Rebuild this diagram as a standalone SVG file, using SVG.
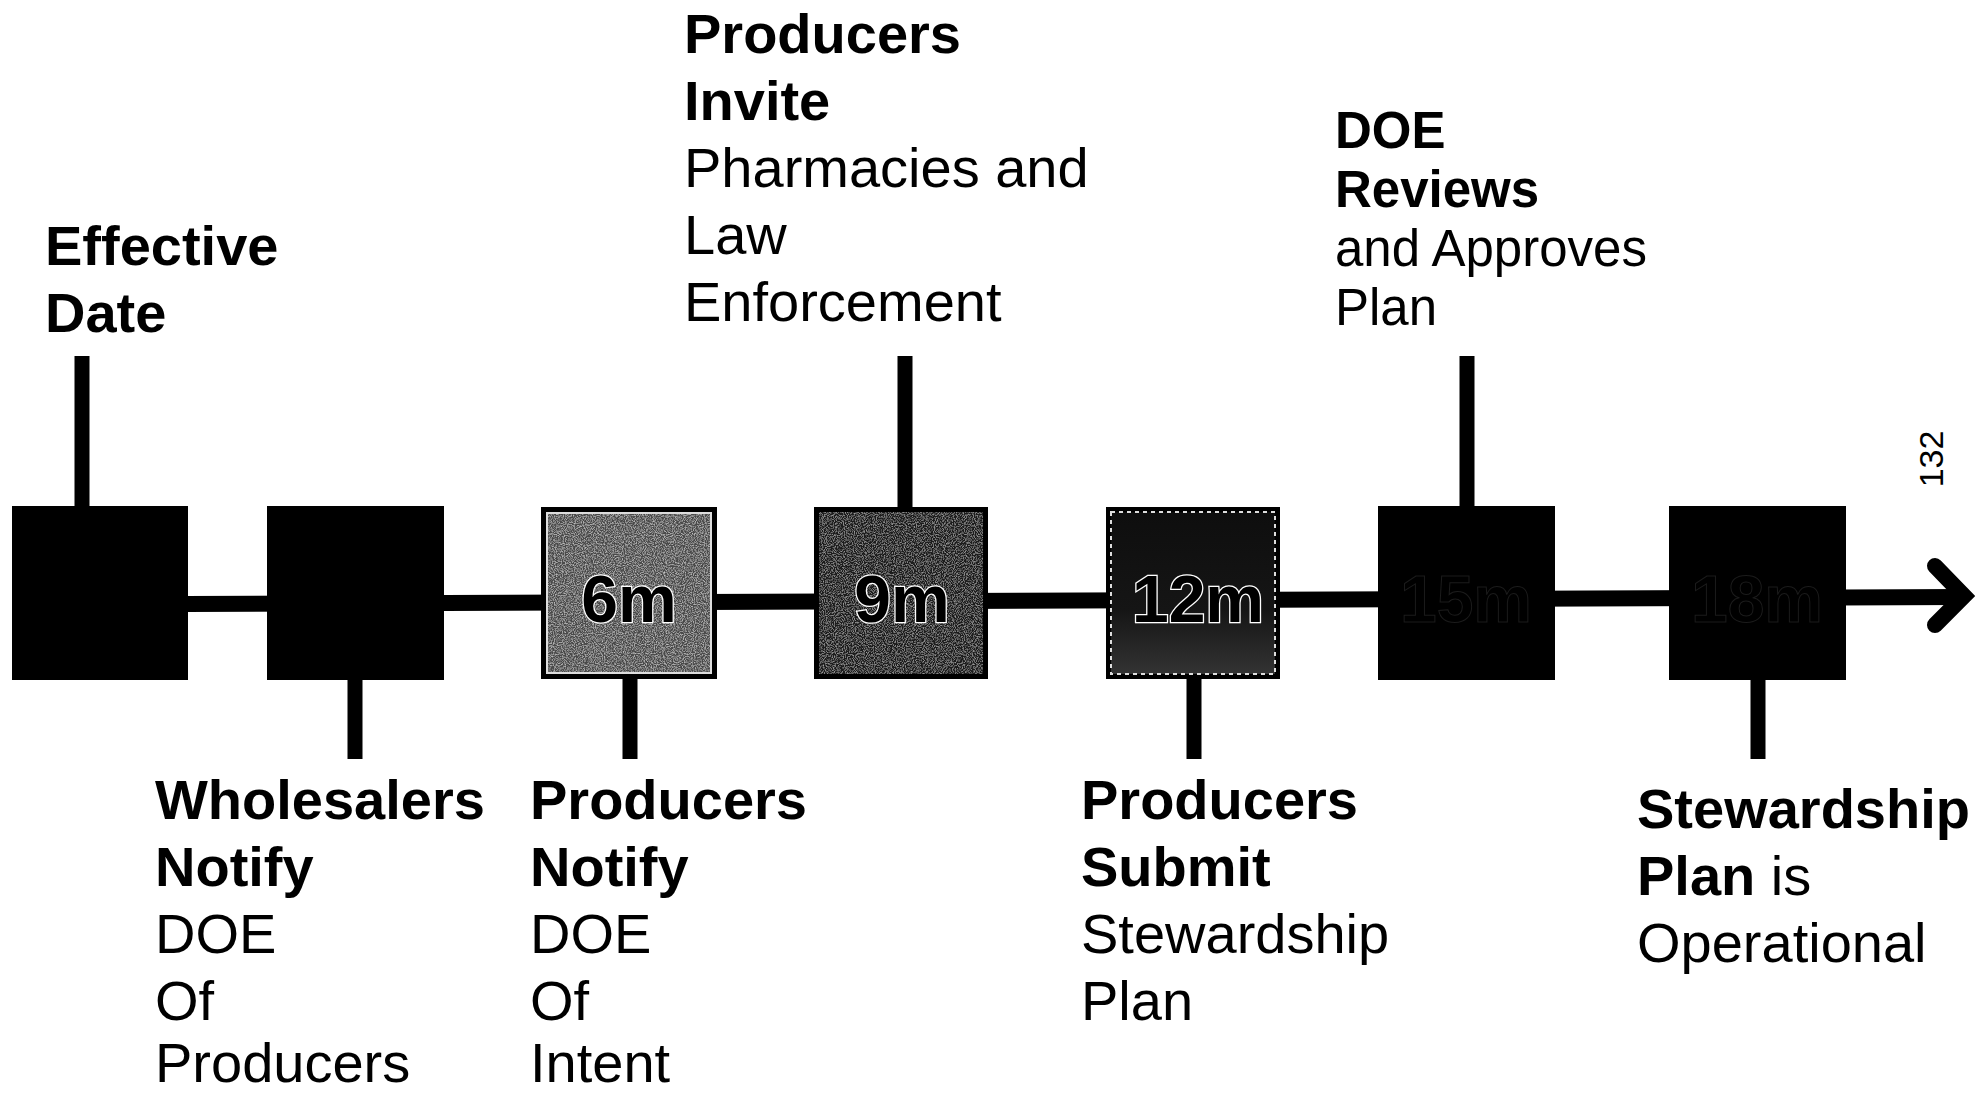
<svg xmlns="http://www.w3.org/2000/svg" width="1977" height="1094" viewBox="0 0 1977 1094">
<style>
  text { font-family: "Liberation Sans", Arial, sans-serif; fill: #000; }
  .b { font-weight: bold; }
  .l56 { font-size: 56px; }
  .l51 { font-size: 51px; }
  .box { stroke: #000; stroke-width: 2; }
  .inner { fill: none; stroke: #ddd; stroke-width: 2; }
  .tick { stroke: #000; stroke-width: 15; }
  .lbl { font-size: 66px; font-weight: bold; text-anchor: middle; stroke: #fff; stroke-width: 2.5; paint-order: stroke; }
  .lbl-dark { font-size: 66px; font-weight: bold; text-anchor: middle; fill: #000; stroke: #1c1c1c; stroke-width: 1; }
</style>
<defs>
  <filter id="grainA" x="0" y="0" width="100%" height="100%">
    <feTurbulence type="fractalNoise" baseFrequency="0.9" numOctaves="2" seed="5" result="t"/>
    <feColorMatrix in="t" type="matrix" values="0 0 0 0 1  0 0 0 0 1  0 0 0 0 1  1.1 0 0 0 -0.45" result="w"/>
    <feComposite in="w" in2="SourceAlpha" operator="in" result="wc"/>
    <feMerge><feMergeNode in="SourceGraphic"/><feMergeNode in="wc"/></feMerge>
  </filter>
  <filter id="grainB" x="0" y="0" width="100%" height="100%">
    <feTurbulence type="fractalNoise" baseFrequency="0.9" numOctaves="2" seed="9" result="t"/>
    <feColorMatrix in="t" type="matrix" values="0 0 0 0 1  0 0 0 0 1  0 0 0 0 1  0.8 0 0 0 -0.35" result="w"/>
    <feComposite in="w" in2="SourceAlpha" operator="in" result="wc"/>
    <feMerge><feMergeNode in="SourceGraphic"/><feMergeNode in="wc"/></feMerge>
  </filter>
  <linearGradient id="g12" x1="0" y1="0" x2="0" y2="1">
    <stop offset="0" stop-color="#0e0e0e"/>
    <stop offset="0.6" stop-color="#151515"/>
    <stop offset="1" stop-color="#333"/>
  </linearGradient>
</defs>

<g id="connectors">
  <line x1="187" y1="604" x2="1962" y2="597" stroke="#000" stroke-width="16"/>
  <polyline points="1935,566 1964,596 1935,625" fill="none" stroke="#000" stroke-width="16" stroke-linecap="round" stroke-linejoin="miter"/>
  <line class="tick" x1="82" y1="356" x2="82" y2="507"/>
  <line class="tick" x1="905" y1="356" x2="905" y2="507"/>
  <line class="tick" x1="1467" y1="356" x2="1467" y2="507"/>
  <line class="tick" x1="355" y1="679" x2="355" y2="759"/>
  <line class="tick" x1="630" y1="679" x2="630" y2="759"/>
  <line class="tick" x1="1194" y1="679" x2="1194" y2="759"/>
  <line class="tick" x1="1758" y1="679" x2="1758" y2="759"/>
</g>

<g id="box-1">
  <rect class="box" x="13" y="507" width="174" height="172" fill="#000"/>
</g>
<g id="box-2">
  <rect class="box" x="268" y="507" width="175" height="172" fill="#000"/>
</g>
<g id="box-6m">
  <rect x="541" y="507" width="176" height="172" fill="#000"/>
  <rect x="547" y="513" width="164" height="160" fill="#4a4a4a" filter="url(#grainA)"/>
  <rect class="inner" x="547" y="513" width="164" height="160"/>
  <text class="lbl" x="629" y="622">6m</text>
</g>
<g id="box-9m">
  <rect x="814" y="507" width="174" height="172" fill="#000"/>
  <rect x="819" y="512" width="164" height="162" fill="#1a1a1a" filter="url(#grainB)"/>
  <text class="lbl" x="902" y="622" fill="#2a2a2a" stroke-width="2">9m</text>
</g>
<g id="box-12m">
  <rect x="1106" y="507" width="174" height="172" fill="#000"/>
  <rect x="1111" y="512" width="164" height="162" fill="url(#g12)"/>
  <rect class="inner" x="1111" y="512" width="164" height="162" stroke="#777" stroke-dasharray="4 4"/>
  <text class="lbl" x="1198" y="622" fill="#1a1a1a" stroke-width="1.5">12m</text>
</g>
<g id="box-15m">
  <rect class="box" x="1379" y="507" width="175" height="172" fill="#000"/>
  <text class="lbl-dark" x="1466" y="622">15m</text>
</g>
<g id="box-18m">
  <rect class="box" x="1670" y="507" width="175" height="172" fill="#000"/>
  <text class="lbl-dark" x="1757" y="622">18m</text>
</g>

<g id="label-effective">
  <text class="l56 b" x="45" y="265">Effective</text>
  <text class="l56 b" x="45" y="332">Date</text>
</g>
<g id="label-invite">
  <text class="l56 b" x="684" y="53">Producers</text>
  <text class="l56 b" x="684" y="120">Invite</text>
  <text class="l56" x="684" y="187">Pharmacies and</text>
  <text class="l56" x="684" y="254">Law</text>
  <text class="l56" x="684" y="321">Enforcement</text>
</g>
<g id="label-reviews">
  <text class="l51 b" x="1335" y="148">DOE</text>
  <text class="l51 b" x="1335" y="207">Reviews</text>
  <text class="l51" x="1335" y="266">and Approves</text>
  <text class="l51" x="1335" y="325">Plan</text>
</g>
<g id="label-wholesalers">
  <text class="l56 b" x="155" y="819">Wholesalers</text>
  <text class="l56 b" x="155" y="886">Notify</text>
  <text class="l56" x="155" y="953">DOE</text>
  <text class="l56" x="155" y="1020">Of</text>
  <text class="l56" x="155" y="1082">Producers</text>
</g>
<g id="label-notify">
  <text class="l56 b" x="530" y="819">Producers</text>
  <text class="l56 b" x="530" y="886">Notify</text>
  <text class="l56" x="530" y="953">DOE</text>
  <text class="l56" x="530" y="1020">Of</text>
  <text class="l56" x="530" y="1082">Intent</text>
</g>
<g id="label-submit">
  <text class="l56 b" x="1081" y="819">Producers</text>
  <text class="l56 b" x="1081" y="886">Submit</text>
  <text class="l56" x="1081" y="953">Stewardship</text>
  <text class="l56" x="1081" y="1020">Plan</text>
</g>
<g id="label-operational">
  <text class="l56 b" x="1637" y="828">Stewardship</text>
  <text class="l56" x="1637" y="895"><tspan class="b">Plan</tspan> is</text>
  <text class="l56" x="1637" y="962">Operational</text>
</g>
<text x="0" y="0" font-size="34" text-anchor="middle" transform="translate(1943,459) rotate(-90)">132</text>
</svg>
